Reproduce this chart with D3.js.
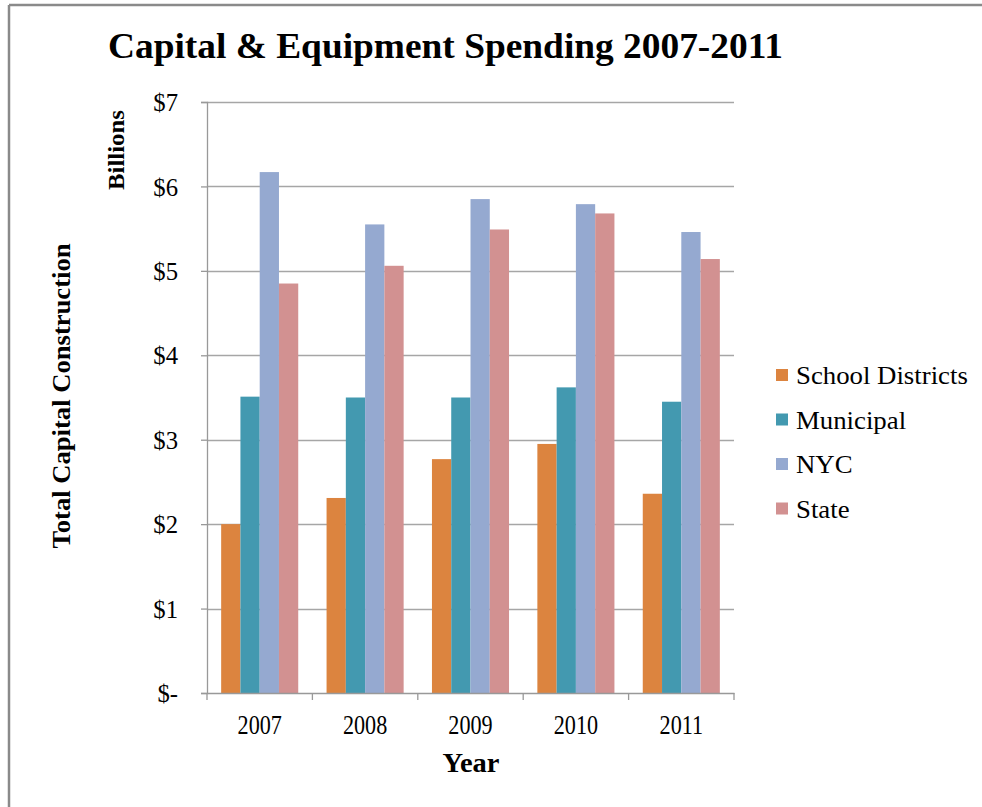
<!DOCTYPE html>
<html>
<head>
<meta charset="utf-8">
<script src="https://cdn.jsdelivr.net/npm/d3@7"></script>
<style>
  html, body { margin: 0; padding: 0; background: #fff; }
  svg text { font-family: "Liberation Serif", "Times New Roman", serif; fill: #000; }
</style>
</head>
<body>
<div id="chart"></div>
<script>
const years = ["2007", "2008", "2009", "2010", "2011"];
const seriesNames = ["School Districts", "Municipal", "NYC", "State"];
const schoolDistricts = [2.00, 2.31, 2.77, 2.95, 2.36];
const municipal = [3.51, 3.50, 3.50, 3.62, 3.45];
const nyc = [6.17, 5.55, 5.85, 5.79, 5.46];
const state = [4.85, 5.06, 5.49, 5.68, 5.14];
const yTicks = [0, 1, 2, 3, 4, 5, 6, 7];
const colors = ["#dc843f", "#4399b0", "#95a9d0", "#d29191"];

const seriesValues = [schoolDistricts, municipal, nyc, state];

const width = 982, height = 807;
const plot = { left: 207, right: 734, top: 102, bottom: 693 };

const svg = d3.select("#chart")
  .append("svg")
  .attr("width", width)
  .attr("height", height);

// squeeze text horizontally, like the narrow serif in the original
function squeeze(sel, factor) {
  sel.each(function() {
    const w = this.getComputedTextLength();
    d3.select(this)
      .attr("textLength", w * factor)
      .attr("lengthAdjust", "spacingAndGlyphs");
  });
}

// frame lines (top & left only)
svg.append("line")
  .attr("x1", 9).attr("y1", 5).attr("x2", width).attr("y2", 5)
  .attr("stroke", "#8a8a8a").attr("stroke-width", 2.5);
svg.append("line")
  .attr("x1", 9).attr("y1", 5).attr("x2", 9).attr("y2", height)
  .attr("stroke", "#8a8a8a").attr("stroke-width", 2.5);

const x = d3.scaleBand()
  .domain(years)
  .range([plot.left, plot.right]);

const xInner = d3.scaleBand()
  .domain(seriesNames)
  .range([0, x.bandwidth()])
  .paddingOuter(0.735)
  .paddingInner(0);

const y = d3.scaleLinear()
  .domain([0, 7])
  .range([plot.bottom, plot.top]);

// gridlines
svg.append("g")
  .selectAll("line")
  .data(yTicks.filter(d => d > 0))
  .enter()
  .append("line")
  .attr("x1", plot.left)
  .attr("x2", plot.right)
  .attr("y1", d => Math.round(y(d)) + 0.5)
  .attr("y2", d => Math.round(y(d)) + 0.5)
  .attr("stroke", "#a6a6a6")
  .attr("stroke-width", 1.3);

// bars
const groups = svg.append("g")
  .selectAll("g")
  .data(years)
  .enter()
  .append("g")
  .attr("transform", d => `translate(${x(d)},0)`);

groups.selectAll("rect")
  .data((d, i) => seriesNames.map((s, j) => ({ s, j, v: seriesValues[j][i] })))
  .enter()
  .append("rect")
  .attr("x", d => xInner(d.s))
  .attr("width", xInner.bandwidth())
  .attr("y", d => y(d.v))
  .attr("height", d => y(0) - y(d.v))
  .attr("fill", d => colors[d.j]);

// y axis
const yAxis = d3.axisLeft(y)
  .tickValues(yTicks)
  .tickSize(6)
  .tickFormat(d => d === 0 ? "$-" : "$" + d);

const gy = svg.append("g")
  .attr("transform", `translate(${plot.left},0)`)
  .call(yAxis);
gy.select(".domain").attr("stroke", "#999").attr("stroke-width", 1.3);
gy.selectAll(".tick line").attr("stroke", "#999").attr("stroke-width", 1.3);
gy.selectAll(".tick text")
  .attr("x", -29)
  .attr("dy", "0.33em")
  .style("font-size", "26px")
  .style("font-family", "'Liberation Serif', serif")
  .call(squeeze, 0.95);

// x axis
const xAxis = d3.axisBottom(x).tickSize(0).tickPadding(0);
const gx = svg.append("g")
  .attr("transform", `translate(0,${plot.bottom})`)
  .call(xAxis);
gx.select(".domain").attr("stroke", "#999").attr("stroke-width", 1.3);
gx.selectAll(".tick text")
  .attr("y", 41)
  .attr("dy", 0)
  .style("font-size", "27px")
  .style("font-family", "'Liberation Serif', serif")
  .call(squeeze, 0.82);

// category boundary ticks
gx.append("g")
  .selectAll("line")
  .data(years.map(d => x(d)).concat([plot.right]))
  .enter()
  .append("line")
  .attr("x1", d => d).attr("x2", d => d)
  .attr("y1", 0).attr("y2", 7)
  .attr("stroke", "#999").attr("stroke-width", 1.3);

// title
svg.append("text")
  .attr("x", 108)
  .attr("y", 58)
  .attr("textLength", 675)
  .attr("lengthAdjust", "spacingAndGlyphs")
  .style("font-size", "35px")
  .style("font-weight", "bold")
  .text("Capital & Equipment Spending 2007-2011");

// axis titles
svg.append("text")
  .attr("transform", `translate(70,396) rotate(-90)`)
  .attr("text-anchor", "middle")
  .attr("textLength", 305)
  .attr("lengthAdjust", "spacingAndGlyphs")
  .style("font-size", "26px")
  .style("font-weight", "bold")
  .text("Total Capital Construction");

svg.append("text")
  .attr("transform", `translate(124,150) rotate(-90)`)
  .attr("text-anchor", "middle")
  .attr("textLength", 80)
  .attr("lengthAdjust", "spacingAndGlyphs")
  .style("font-size", "23px")
  .style("font-weight", "bold")
  .text("Billions");

svg.append("text")
  .attr("x", 471)
  .attr("y", 772)
  .attr("text-anchor", "middle")
  .attr("textLength", 57)
  .attr("lengthAdjust", "spacingAndGlyphs")
  .style("font-size", "27px")
  .style("font-weight", "bold")
  .text("Year");

// legend
const legend = svg.append("g")
  .selectAll("g")
  .data(seriesNames)
  .enter()
  .append("g")
  .attr("transform", (d, i) => `translate(776,${375 + i * 44.5})`);

legend.append("rect")
  .attr("x", 0)
  .attr("y", -6)
  .attr("width", 12)
  .attr("height", 12)
  .attr("fill", (d, i) => colors[i]);

legend.append("text")
  .attr("x", 20)
  .attr("y", 9)
  .style("font-size", "26px")
  .text(d => d)
  .call(squeeze, 1.03);
</script>
</body>
</html>
